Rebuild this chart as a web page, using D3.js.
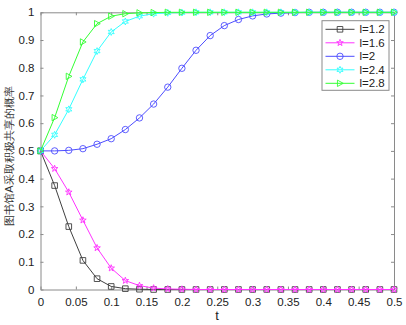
<!DOCTYPE html>
<html>
<head>
  <meta charset="utf-8">
  <script src="https://d3js.org/d3.v7.min.js"></script>
  <style>
    body { margin: 0; background: #fff; }
    text { font-family: "Liberation Sans", Arial, sans-serif; }
  </style>
</head>
<body>
  <div id="chart"></div>
  <script>
    // time points 0, 0.02, ..., 0.5
    const tValues = d3.range(26).map(i => +(i * 0.02).toFixed(2));

    const seriesNames = ["l=1.2", "l=1.6", "l=2", "l=2.4", "l=2.8"];
    const p12 = [0.5, 0.375, 0.227, 0.105, 0.039, 0.011, 0.003, 0.001, 0, 0, 0, 0, 0, 0, 0, 0, 0, 0, 0, 0, 0, 0, 0, 0, 0, 0];
    const p16 = [0.5, 0.436, 0.351, 0.25, 0.15, 0.077, 0.032, 0.014, 0.005, 0.002, 0.001, 0, 0, 0, 0, 0, 0, 0, 0, 0, 0, 0, 0, 0, 0, 0];
    const p20 = [0.5, 0.5, 0.502, 0.508, 0.524, 0.544, 0.577, 0.619, 0.669, 0.73, 0.798, 0.863, 0.916, 0.952, 0.974, 0.987, 0.994, 0.997, 0.999, 1, 1, 1, 1, 1, 1, 1];
    const p24 = [0.5, 0.558, 0.65, 0.758, 0.86, 0.929, 0.967, 0.986, 0.995, 0.998, 0.999, 1, 1, 1, 1, 1, 1, 1, 1, 1, 1, 1, 1, 1, 1, 1];
    const p28 = [0.5, 0.62, 0.769, 0.893, 0.959, 0.986, 0.995, 0.998, 0.999, 1, 1, 1, 1, 1, 1, 1, 1, 1, 1, 1, 1, 1, 1, 1, 1, 1];
    const allSeries = [p12, p16, p20, p24, p28];

    const xTicks = d3.range(11).map(i => +(i * 0.05).toFixed(2));
    const yTicks = d3.range(11).map(i => +(i * 0.1).toFixed(1));

    const colors = ["#404040", "#ff33ff", "#4d4dff", "#33ffff", "#33ff33"];
    const markers = ["square", "pent", "circle", "hex", "tri"];

    const width = 406, height = 325;
    const mLeft = 40.5, mRight = 394, mTop = 12.3, mBottom = 289.5;

    const svg = d3.select("#chart").append("svg")
      .attr("width", width).attr("height", height);

    const x = d3.scaleLinear().domain([0, 0.5]).range([mLeft, mRight]);
    const y = d3.scaleLinear().domain([0, 1]).range([mBottom, mTop]);

    // axes (ticks inward, mirrored on top/right)
    const axisColor = "#8a8a8a";
    const fmt = d => d === 0 ? "0" : String(d);
    const gx = svg.append("g").attr("transform", `translate(0,${mBottom})`)
      .call(d3.axisBottom(x).tickValues(xTicks).tickFormat(fmt).tickSizeInner(-3).tickSizeOuter(0).tickPadding(8));
    const gy = svg.append("g").attr("transform", `translate(${mLeft},0)`)
      .call(d3.axisLeft(y).tickValues(yTicks).tickFormat(fmt).tickSizeInner(-3).tickSizeOuter(0).tickPadding(6));
    const gxt = svg.append("g").attr("transform", `translate(0,${mTop})`)
      .call(d3.axisTop(x).tickValues(xTicks).tickFormat("").tickSizeInner(-3).tickSizeOuter(0));
    const gyr = svg.append("g").attr("transform", `translate(${mRight},0)`)
      .call(d3.axisRight(y).tickValues(yTicks).tickFormat("").tickSizeInner(-3).tickSizeOuter(0));
    [gx, gy, gxt, gyr].forEach(g => {
      g.select(".domain").attr("stroke", axisColor);
      g.selectAll(".tick line").attr("stroke", axisColor);
      g.selectAll("text").attr("font-size", 11.5).attr("fill", "#222")
        .attr("font-family", "'Liberation Sans', Arial, sans-serif");
    });

    function markerPath(type, r) {
      if (type === "square") return `M${-r},${-r}H${r}V${r}H${-r}Z`;
      if (type === "circle") return d3.symbol(d3.symbolCircle, Math.PI * r * r)();
      if (type === "tri") return `M${-r * 0.8},${-r}L${r},0L${-r * 0.8},${r}Z`;
      const n = type === "pent" ? 5 : 6;
      const inner = type === "pent" ? 0.4 : 0.5;
      const pts = [];
      for (let i = 0; i < n * 2; i++) {
        const a = -Math.PI / 2 + i * Math.PI / n;
        const rr = i % 2 === 0 ? r * 1.15 : r * 1.15 * inner;
        pts.push([rr * Math.cos(a), rr * Math.sin(a)]);
      }
      return "M" + pts.map(p => p.join(",")).join("L") + "Z";
    }
    const mSize = [2.8, 3, 3.2, 3, 3.2];

    const line = d3.line().x((d, i) => x(tValues[i])).y(d => y(d));
    allSeries.forEach((vals, s) => {
      const g = svg.append("g");
      g.append("path").datum(vals)
        .attr("fill", "none").attr("stroke", colors[s]).attr("stroke-width", 1)
        .attr("d", line);
      g.selectAll("path.m").data(vals).join("path")
        .attr("class", "m")
        .attr("transform", (d, i) => `translate(${x(tValues[i])},${y(d)})`)
        .attr("d", markerPath(markers[s], mSize[s]))
        .attr("fill", "none").attr("stroke", colors[s]).attr("stroke-width", 0.9);
    });

    // legend
    const lg = svg.append("g");
    lg.append("rect").attr("x", 322).attr("y", 20.7).attr("width", 67).attr("height", 69.6)
      .attr("fill", "#fff").attr("stroke", "#8a8a8a").attr("stroke-width", 1);
    seriesNames.forEach((name, s) => {
      const yy = 29.3 + s * 13.5;
      lg.append("line").attr("x1", 325.5).attr("x2", 354.5).attr("y1", yy).attr("y2", yy)
        .attr("stroke", colors[s]).attr("stroke-width", 1);
      lg.append("path").attr("transform", `translate(340,${yy})`)
        .attr("d", markerPath(markers[s], mSize[s]))
        .attr("fill", "none").attr("stroke", colors[s]).attr("stroke-width", 0.9);
      lg.append("text").attr("x", 359.5).attr("y", yy + 4).attr("font-size", 11.5)
        .attr("fill", "#222").text(name);
    });

    // axis labels
    svg.append("text").attr("x", 217).attr("y", 320)
      .attr("text-anchor", "middle").attr("font-size", 13).attr("fill", "#222").text("t");
    svg.append("text")
      .attr("transform", `translate(12.5,156) rotate(-90)`)
      .attr("text-anchor", "middle").attr("font-size", 11).attr("fill", "#333")
      .attr("font-family", "'Noto Sans CJK SC', sans-serif")
      .text("图书馆A采取积极共享的概率");
  </script>
</body>
</html>
